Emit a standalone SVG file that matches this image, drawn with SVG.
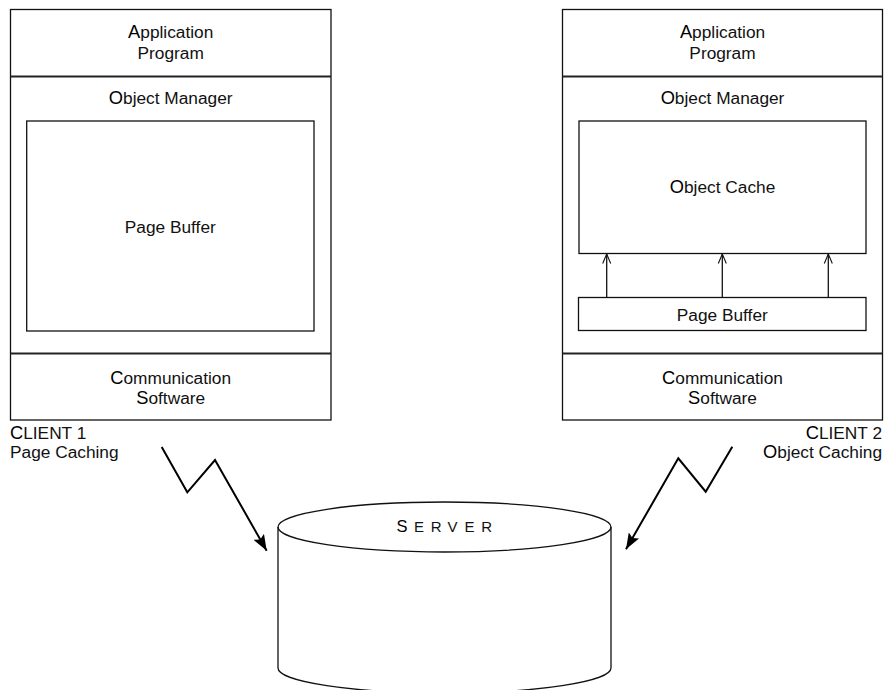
<svg xmlns="http://www.w3.org/2000/svg" width="886" height="690" viewBox="0 0 886 690">
<style>
.box{fill:#fff;stroke:#111;stroke-width:1.3}
.div{stroke:#222;stroke-width:2;fill:none}
.t{font-family:"Liberation Sans",Arial,sans-serif;font-size:17.3px;fill:#111}
.c{text-anchor:middle}
.e{text-anchor:end}
.b{font-size:18.3px;fill:#000}
.s{font-size:15px}
.sb{font-size:16.5px;fill:#000}
.ln{stroke:#111;stroke-width:1.3;fill:none}
.bolt{stroke:#000;stroke-width:2;fill:none}
</style>
<defs>
<marker id="open" viewBox="0 0 10 12" refX="9.5" refY="6" markerWidth="10" markerHeight="12" markerUnits="userSpaceOnUse" orient="auto">
<path d="M0,2 L9.5,6 L0,10" fill="none" stroke="#111" stroke-width="1.1"/>
</marker>
<marker id="solid" viewBox="0 0 16 12" refX="16" refY="6" markerWidth="16" markerHeight="12" markerUnits="userSpaceOnUse" orient="auto">
<path d="M0,0 L16,6 L0,12 L3,6 Z" fill="#000"/>
</marker>
</defs>
<rect width="886" height="690" fill="#fff"/>

<g id="client1">
<rect class="box" x="10.5" y="9.5" width="320.5" height="410.5"/>
<line class="div" x1="10.5" y1="76.5" x2="331" y2="76.5"/>
<line class="div" x1="10.5" y1="353.5" x2="331" y2="353.5"/>
<text class="t c" x="170.7" y="38"><tspan class="b">A</tspan>pplication</text>
<text class="t c" x="170.7" y="59">Program</text>
<text class="t c" x="170.7" y="104"><tspan class="b">O</tspan>bject Manager</text>
<rect class="box" x="26.7" y="121" width="287.3" height="210"/>
<text class="t c" x="170.3" y="232.5">Page Buffer</text>
<text class="t c" x="170.7" y="383.5"><tspan class="b">C</tspan>ommunication</text>
<text class="t c" x="170.7" y="404"><tspan class="b">S</tspan>oftware</text>
<text class="t" x="10" y="439"><tspan class="b">C</tspan>LIENT 1</text>
<text class="t" x="10" y="457.5">Page Caching</text>
</g>

<g id="client2">
<rect class="box" x="562.5" y="9.5" width="320" height="410.5"/>
<line class="div" x1="562.5" y1="76.5" x2="882.5" y2="76.5"/>
<line class="div" x1="562.5" y1="353.5" x2="882.5" y2="353.5"/>
<text class="t c" x="722.5" y="38"><tspan class="b">A</tspan>pplication</text>
<text class="t c" x="722.5" y="59">Program</text>
<text class="t c" x="722.5" y="104"><tspan class="b">O</tspan>bject Manager</text>
<text class="t e" x="882" y="439"><tspan class="b">C</tspan>LIENT 2</text>
<text class="t e" x="882" y="457.5"><tspan class="b">O</tspan>bject Caching</text>
<text class="t c" x="722.5" y="383.5"><tspan class="b">C</tspan>ommunication</text>
<text class="t c" x="722.5" y="404"><tspan class="b">S</tspan>oftware</text>
</g>

<g id="object-cache">
<rect class="box" x="579" y="121" width="287" height="132.5"/>
<text class="t c" x="722.5" y="192.5"><tspan class="b">O</tspan>bject Cache</text>
</g>

<g id="page-buffer-2">
<rect class="box" x="578.5" y="297.5" width="287.5" height="33"/>
<text class="t c" x="722.3" y="320.5">Page Buffer</text>
</g>

<g id="server">
<path class="ln" d="M278,527 L278,668 A166.5,25 0 0 0 611,668 L611,527"/>
<ellipse class="ln" cx="444.5" cy="527" rx="166.5" ry="25" fill="#fff"/>
<text class="t s" x="396.5 414 430.7 447.5 464.5 481.2" y="532"><tspan class="sb">S</tspan>ERVER</text>
</g>

<g id="connectors">
<line class="ln" x1="606.7" y1="297.5" x2="606.7" y2="254" marker-end="url(#open)"/>
<line class="ln" x1="722.3" y1="297.5" x2="722.3" y2="254" marker-end="url(#open)"/>
<line class="ln" x1="828.3" y1="297.5" x2="828.3" y2="254" marker-end="url(#open)"/>
<polyline class="bolt" points="161.7,447 187.3,492.3 215,460 266.7,550.7" marker-end="url(#solid)"/>
<polyline class="bolt" points="732.3,446.7 705.7,491.7 678.3,458.3 626,549.3" marker-end="url(#solid)"/>
</g>
</svg>
